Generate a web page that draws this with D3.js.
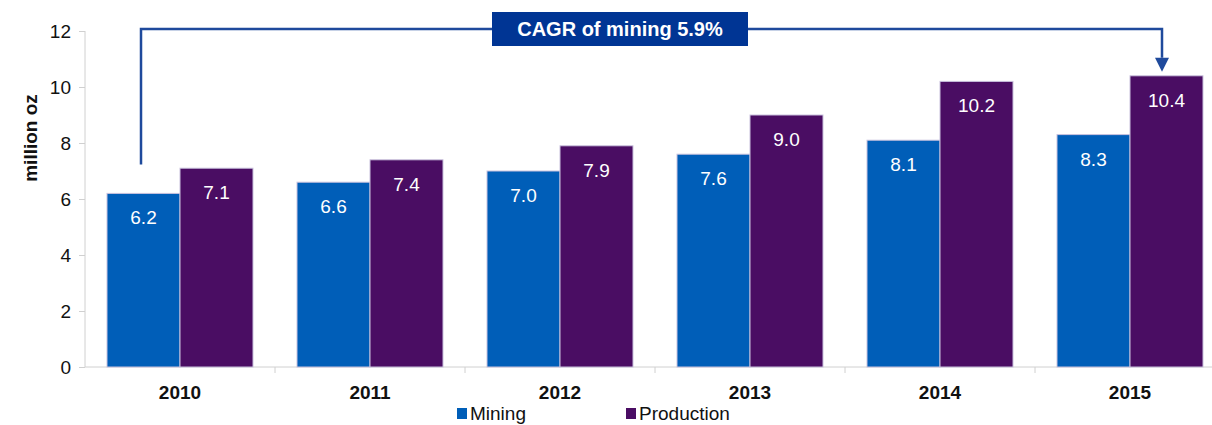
<!DOCTYPE html>
<html><head><meta charset="utf-8">
<script src="https://cdn.jsdelivr.net/npm/d3@7"></script>
<style>body{margin:0;background:#fff;overflow:hidden}svg{display:block;font-family:Arial,"Liberation Sans",sans-serif}</style>
</head><body><svg id="c" width="1212" height="425"></svg>
<script>
const years = ["2010","2011","2012","2013","2014","2015"];
const mining = [6.2, 6.6, 7.0, 7.6, 8.1, 8.3];
const production = [7.1, 7.4, 7.9, 9.0, 10.2, 10.4];
const seriesNames = ["Mining","Production"];
const colors = ["#005EB8","#4A0D63"];
const yTicks = [0,2,4,6,8,10,12];
const annotationText = "CAGR of mining 5.9%";

const svg = d3.select("#c");
const x = d3.scaleBand().domain(years).range([85,1225]).paddingInner(0).paddingOuter(0);
const y = d3.scaleLinear().domain([0,12]).range([367,31]);
const groupW = 146, barW = groupW/2;
const xs = (yr, i) => x(yr) + (x.bandwidth()-groupW)/2 + i*barW;

// axes
const gy = svg.append("g").attr("transform","translate(85,0)")
  .call(d3.axisLeft(y).tickValues(yTicks).tickSize(6).tickPadding(8).tickFormat(d3.format("d")));
gy.select(".domain").attr("stroke","#d0d0d0").attr("d","M0,31V367");
gy.selectAll(".tick line").attr("stroke","#d0d0d0");
gy.selectAll(".tick text").attr("font-size",19).attr("fill","#111");

const gx = svg.append("g").attr("transform","translate(0,367)");
gx.append("line").attr("x1",85).attr("x2",1212).attr("y1",0).attr("y2",0).attr("stroke","#d0d0d0");
gx.selectAll("line.t").data(years.slice(1)).join("line").attr("class","t")
  .attr("x1",d=>x(d)).attr("x2",d=>x(d)).attr("y1",0).attr("y2",6).attr("stroke","#d0d0d0");
gx.selectAll("text").data(years).join("text")
  .attr("x",d=>x(d)+x.bandwidth()/2).attr("y",32).attr("text-anchor","middle")
  .attr("font-size",19).attr("font-weight","bold").attr("fill","#111").text(d=>d);

// bars
const data = [mining, production];
data.forEach((vals,i)=>{
  const g = svg.append("g");
  g.selectAll("rect").data(years).join("rect")
    .attr("x",(d)=>xs(d,i)).attr("width",barW)
    .attr("y",(d,j)=>y(vals[j])).attr("height",(d,j)=>y(0)-y(vals[j]))
    .attr("fill",colors[i]).attr("stroke","#c9c2dd").attr("stroke-width",1);
  g.selectAll("text").data(years).join("text")
    .attr("x",d=>xs(d,i)+barW/2).attr("y",(d,j)=>y(vals[j])+31)
    .attr("text-anchor","middle").attr("font-size",19).attr("fill","#fff")
    .text((d,j)=>vals[j].toFixed(1));
});

// y title
svg.append("text").attr("transform","translate(37,138) rotate(-90)")
  .attr("text-anchor","middle").attr("font-size",19).attr("font-weight","bold").attr("fill","#111").text("million oz");

// annotation bracket
const xa = xs(years[0],0)+34, xb = xs(years[5],1)+32;
const topY = 29;
svg.append("path").attr("d",`M${xa},${y(mining[0])-29}V${topY}H${xb}V${y(production[5])-18}`)
  .attr("fill","none").attr("stroke","#1F4A9C").attr("stroke-width",2.5);
const tipY = y(production[5])-4;
svg.append("path").attr("d",`M${xb-7},${tipY-14}L${xb+7},${tipY-14}L${xb},${tipY}Z`).attr("fill","#1F4A9C");
svg.append("rect").attr("x",492).attr("y",12).attr("width",256).attr("height",34).attr("fill","#003594");
svg.append("text").attr("x",620).attr("y",36).attr("text-anchor","middle").attr("font-size",20)
  .attr("font-weight","bold").attr("fill","#fff").text(annotationText);

// legend
const leg = svg.append("g");
const legX = [457, 626];
seriesNames.forEach((n,i)=>{
  leg.append("rect").attr("x",legX[i]).attr("y",408).attr("width",10).attr("height",11).attr("fill",colors[i]);
  leg.append("text").attr("x",legX[i]+13).attr("y",420).attr("font-size",19).attr("fill","#111").text(n);
});
</script></body></html>
